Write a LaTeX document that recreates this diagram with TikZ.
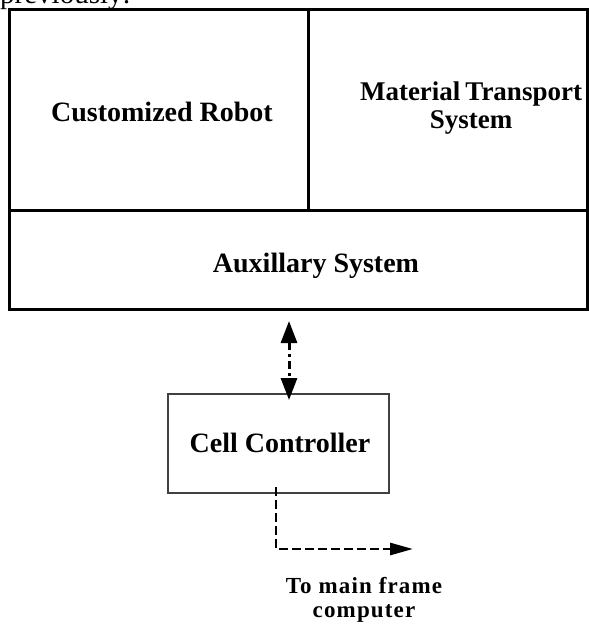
\documentclass[tikz,border=0pt]{standalone}
\usepackage{fontspec}
\setmainfont{Liberation Serif}
\usetikzlibrary{arrows.meta,calc}
\begin{document}
\begin{tikzpicture}[x=1pt,y=-1pt,
  blk/.style={draw=black,line width=3pt,inner sep=0pt,outer sep=0pt,anchor=north west},
  cellbox/.style={draw=black!75,line width=1.3pt,inner sep=0pt,outer sep=0pt,anchor=north west},
  lbl/.style={font=\fontsize{28}{28}\selectfont\bfseries,align=center,inner sep=0pt,anchor=base},
  small/.style={font=\fontsize{23}{24}\selectfont\bfseries\addfontfeature{LetterSpace=5},align=center,inner sep=0pt,anchor=base},
  link/.style={line width=3pt,dash pattern=on 8pt off 4pt on 3pt off 4pt},
  outlink/.style={line width=2.8pt,dash pattern=on 9pt off 4pt}]
\useasboundingbox (0,0) rectangle (589,624);
\clip (0,0) rectangle (589,624);
\fill[white] (0,0) rectangle (589,624);
\node[font=\fontsize{29}{30}\selectfont,anchor=base west,inner sep=0pt] (prev) at (0,3) {previously:};
% boxes
\node[blk,minimum width=299pt,minimum height=201pt] (robot) at (9,9) {};
\node[blk,minimum width=279pt,minimum height=201pt] (mts) at (308,9) {};
\node[blk,minimum width=578pt,minimum height=99pt] (aux) at (9,210) {};
\node[cellbox,minimum width=221pt,minimum height=99pt] (cell) at (168,394) {};
% labels
\node[lbl] (robotT) at (162,121) {Customized Robot};
\node[lbl,font=\fontsize{27}{28}\selectfont\bfseries] (mtsT) at (471,128) {Material\hspace{5pt}Transport\\System};
\node[lbl] (auxT) at (316,272) {Auxillary System};
\node[lbl] (cellT) at (280,452) {Cell Controller};
\node[small] (mainT) at (364,617) {To main frame\\computer};
% connectors
\coordinate (dtop) at (289,321);
\coordinate (dbot) at (289,400);
\draw[link,{Triangle[length=22pt,width=16pt]}-{Triangle[length=22pt,width=16pt]}] (dtop) -- (dbot);
\coordinate (ctop) at (276,487);
\coordinate (cend) at (413,549);
\draw[outlink,-{Triangle[length=23pt,width=12pt]}] (ctop) |- (cend);
\end{tikzpicture}
\end{document}
